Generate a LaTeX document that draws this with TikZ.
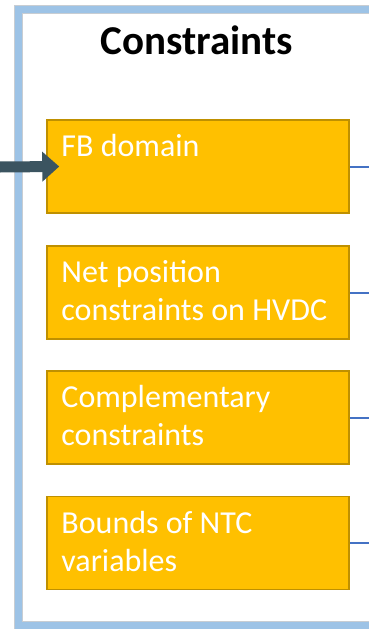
\documentclass[tikz,border=0pt]{standalone}
\usepackage{fontspec}
\setmainfont{Carlito}
\usepackage{xcolor}
\usepackage{tikz}
\usetikzlibrary{arrows.meta}

\definecolor{FrameBlue}{RGB}{157,195,230}
\definecolor{FrameGray}{RGB}{200,205,210}
\definecolor{BoxGold}{RGB}{255,192,0}
\definecolor{BoxEdge}{RGB}{191,144,0}
\definecolor{LinkBlue}{RGB}{68,114,196}
\definecolor{ArrowSlate}{RGB}{59,84,96}

\tikzset{
  cbox/.style={draw=BoxEdge, line width=1.5pt, fill=BoxGold, minimum width=302pt, minimum height=93pt, inner sep=0pt},
  ctext/.style={text=white, align=left, inner sep=0pt, anchor=base west, font=\fontsize{32}{38}\selectfont},
  outlink/.style={LinkBlue, line width=2pt}
}

\begin{document}
\begin{tikzpicture}[x=1pt, y=-1pt]
\useasboundingbox (0,0) rectangle (369,629);
\clip (0,0) rectangle (369,629);

\draw[FrameGray, line width=9pt] (18,9) rectangle (380,625);
\draw[FrameBlue, line width=7pt] (18,9) rectangle (380,625);

\node[font=\fontsize{41}{48}\selectfont\bfseries, anchor=base] (title) at (197,54) {Constraints};

\node[cbox] (fb)   at (198,166.5) {};
\node[cbox] (hvdc) at (198,292.5) {};
\node[cbox] (comp) at (198,417.5) {};
\node[cbox] (ntc)  at (198,543)   {};

% base anchor sits on the last line
\node[ctext] (fbtext)   at ([xshift=15pt, yshift=-37.5pt]fb.north west)   {FB domain};
\node[ctext] (hvdctext) at ([xshift=15pt, yshift=-75.5pt]hvdc.north west) {Net position\\constraints on HVDC};
\node[ctext] (comptext) at ([xshift=15pt, yshift=-75.5pt]comp.north west) {Complementary\\constraints};
\node[ctext] (ntctext)  at ([xshift=15pt, yshift=-75.5pt]ntc.north west)  {Bounds of NTC\\variables};

% input arrow
\coordinate (in) at (0,167);
\draw[ArrowSlate, line width=11pt, -{Triangle[length=17pt, width=29pt]}] (in) -- ([xshift=13pt]fb.west);

% links on the right
\coordinate (out1) at (375,166.5);
\coordinate (out2) at (375,292.5);
\coordinate (out3) at (375,417.5);
\coordinate (out4) at (375,543);
\draw[outlink] (fb.east) -- (out1);
\draw[outlink] (hvdc.east) -- (out2);
\draw[outlink] (comp.east) -- (out3);
\draw[outlink] (ntc.east) -- (out4);

\end{tikzpicture}
\end{document}
